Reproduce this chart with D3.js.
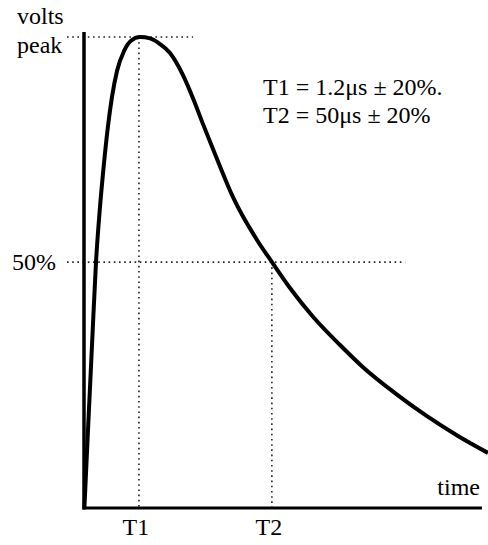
<!DOCTYPE html>
<html>
<head>
<meta charset="utf-8">
<script src="https://cdn.jsdelivr.net/npm/d3@7"></script>
<style>
  body { margin: 0; background: #fff; }
  text { font-family: "Liberation Serif", "DejaVu Serif", serif; font-size: 24px; fill: #000; }
</style>
</head>
<body>
<script>
// waveform (time in arbitrary units, volts as fraction of peak)
const timeValues = [0.1, 0.99, 1.98, 2.97, 3.96, 4.95, 5.94, 6.93, 8.17, 9.9, 11.63, 13.86,
  16.34, 18.81, 21.29, 24.5, 26.98, 29.46, 32.92, 36.88, 42.82, 46.53, 50.99, 56.68, 63.37, 69.06, 76.98, 84.9, 92.57, 100];
const voltValues = [0, 0.166, 0.346, 0.522, 0.639, 0.732, 0.811, 0.873, 0.928, 0.97, 0.992, 1.0,
  0.997, 0.985, 0.966, 0.919, 0.87, 0.815, 0.741, 0.66, 0.569, 0.522, 0.467, 0.406, 0.346, 0.299, 0.244, 0.195, 0.153, 0.117];

const markerTimes = [13.6, 46.5];
const markerLabels = ['T1', 'T2'];
const levelValues = [1, 0.522];
const levelEnds = [27, 79.5];
const levelLabels = [['volts', 'peak'], ['50%']];
const noteLines = ['T1 = 1.2μs ± 20%.', 'T2 = 50μs ± 20%'];

const width = 488, height = 545;
const x = d3.scaleLinear().domain([0, 100]).range([84, 488]);
const y = d3.scaleLinear().domain([0, 1]).range([508, 37]);

const svg = d3.select('body').append('svg')
  .attr('width', width)
  .attr('height', height);

// dotted guides
const dots = svg.append('g')
  .attr('stroke', '#222')
  .attr('stroke-width', 1.6)
  .attr('stroke-dasharray', '1.6,3.6')
  .attr('fill', 'none');

levelValues.forEach((v, i) => {
  dots.append('line')
    .attr('x1', x(0) - 17).attr('x2', x(levelEnds[i]))
    .attr('y1', y(v)).attr('y2', y(v));
});

markerTimes.forEach((t, i) => {
  dots.append('line')
    .attr('x1', x(t)).attr('x2', x(t))
    .attr('y1', y(levelValues[i])).attr('y2', y(0));
});

// axes
svg.append('line')
  .attr('x1', x(0)).attr('x2', x(0))
  .attr('y1', y(1) - 5).attr('y2', y(0) + 1.5)
  .attr('stroke', '#000').attr('stroke-width', 3.5);

svg.append('line')
  .attr('x1', x(0) - 1.5).attr('x2', x(98.5))
  .attr('y1', y(0)).attr('y2', y(0))
  .attr('stroke', '#000').attr('stroke-width', 3);

// the wave
const line = d3.line()
  .x((d, i) => x(timeValues[i]))
  .y(d => y(d))
  .curve(d3.curveMonotoneX);

svg.append('path')
  .datum(voltValues)
  .attr('d', line)
  .attr('fill', 'none')
  .attr('stroke', '#000')
  .attr('stroke-width', 4)
  .attr('stroke-linejoin', 'round');

// labels
svg.append('text').attr('x', 17).attr('y', 24).text(levelLabels[0][0]);
svg.append('text').attr('x', 17).attr('y', y(levelValues[0]) + 16).text(levelLabels[0][1]);
svg.append('text').attr('x', 12).attr('y', y(levelValues[1]) + 8).text(levelLabels[1][0]);

markerTimes.forEach((t, i) => {
  svg.append('text')
    .attr('x', x(t) - 3)
    .attr('y', 535)
    .attr('text-anchor', 'middle')
    .text(markerLabels[i]);
});

svg.append('text').attr('x', 480).attr('y', 495).attr('text-anchor', 'end').text('time');

noteLines.forEach((s, i) => {
  svg.append('text')
    .attr('x', 263)
    .attr('y', 95 + i * 28)
    .text(s);
});
</script>
</body>
</html>
